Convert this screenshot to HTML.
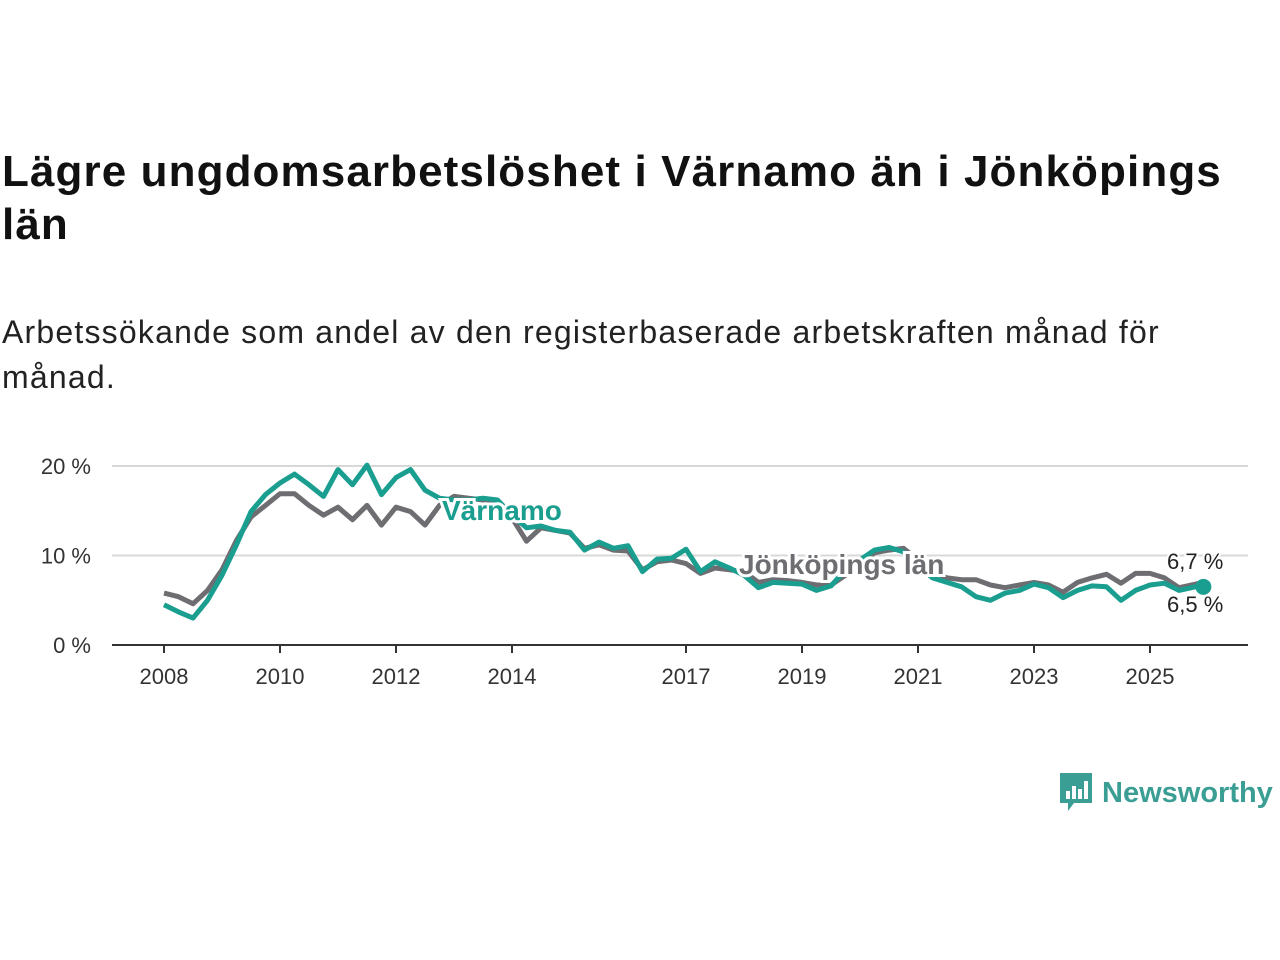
<!DOCTYPE html>
<html><head><meta charset="utf-8">
<style>
body{margin:0;width:1280px;height:960px;background:#fff;font-family:"Liberation Sans",sans-serif;overflow:hidden;position:relative}
h1{position:absolute;left:2px;top:145px;margin:0;font-size:44px;letter-spacing:1.1px;line-height:53px;font-weight:bold;color:#111;width:1270px;white-space:nowrap}
.sub{position:absolute;left:2px;top:310px;margin:0;font-size:32px;letter-spacing:1.2px;line-height:45px;color:#222;width:1270px;white-space:nowrap}
svg{position:absolute;left:0;top:0}
.logo{position:absolute;left:1058px;top:771px;height:44px;display:flex;align-items:center;color:#3a9e94;font-size:29px;font-weight:bold}
</style></head><body>
<h1>Lägre ungdomsarbetslöshet i Värnamo än i Jönköpings<br>län</h1>
<p class="sub">Arbetssökande som andel av den registerbaserade arbetskraften månad för<br>månad.</p>
<svg id="chart" width="1280" height="960"></svg>
<div class="logo">
<svg width="36" height="44" style="position:static;margin-right:8px"><path d="M2 2h32v30H16l-6 8v-8H2z" fill="#3a9e94"/><rect x="8" y="20" width="4" height="8" fill="#fff"/><rect x="14" y="15" width="4" height="13" fill="#fff"/><rect x="20" y="18" width="4" height="10" fill="#fff"/><rect x="26" y="10" width="4" height="18" fill="#fff"/></svg>Newsworthy</div>
<script>
const times=[];for(let i=0;i<71;i++)times.push(2008+i*0.25);times.push(2025.92);
const jonkoping=[5.8,5.4,4.6,6.1,8.4,11.7,14.3,15.6,16.9,16.9,15.6,14.5,15.4,14,15.6,13.4,15.4,14.9,13.4,15.6,16.6,16.4,16.2,15.6,14.2,11.6,13.1,12.8,12.5,10.8,11.2,10.6,10.5,8.4,9.3,9.5,9.1,8.0,8.6,8.4,8.2,7.0,7.3,7.2,7.0,6.7,6.7,7.8,8.9,10.3,10.6,10.8,9.5,8.2,7.5,7.3,7.3,6.7,6.4,6.7,7.0,6.7,5.9,7.0,7.5,7.9,6.9,8.0,8.0,7.5,6.4,7.0,6.7];
const varnamo=[4.5,3.7,3.0,5.0,7.8,11.2,14.9,16.8,18.1,19.1,17.9,16.6,19.6,17.9,20.1,16.8,18.7,19.6,17.3,16.4,16.2,16.2,16.4,16.2,14.5,13.1,13.3,12.8,12.6,10.6,11.5,10.8,11.1,8.2,9.6,9.7,10.7,8.2,9.3,8.6,7.8,6.4,7.0,6.9,6.8,6.1,6.6,8.4,9.5,10.6,10.9,10.4,8.9,7.5,7.0,6.5,5.4,5.0,5.8,6.1,6.8,6.4,5.3,6.1,6.6,6.5,5.0,6.1,6.7,6.9,6.1,6.7,6.5];
const yTicks=[0,10,20];
const yTickLabels=["0 %","10 %","20 %"];
const xTicks=[2008,2010,2012,2014,2017,2019,2021,2023,2025];
const NS="http://www.w3.org/2000/svg",svg=document.getElementById('chart');
const X=t=>164+(t-2008)*58, Y=v=>645-v*8.95;
function mk(tag,a,p){const e=document.createElementNS(NS,tag);for(const k in a)e.setAttribute(k,a[k]);(p||svg).appendChild(e);return e;}
yTicks.forEach((v,i)=>{
 if(v>0){const g=mk('line',{x1:112,x2:1248,y1:Y(v),y2:Y(v),stroke:'#d8d8d8','stroke-width':2});
 
 }
 const t=mk('text',{x:91,y:Y(v)+8,'text-anchor':'end','font-size':22,fill:'#333'});t.textContent=yTickLabels[i];
 
 
});
const ax=mk('line',{x1:112,x2:1248,y1:645,y2:645,stroke:'#333','stroke-width':2});


xTicks.forEach(y=>{
 const tk=mk('line',{x1:X(y),x2:X(y),y1:645,y2:653,stroke:'#333','stroke-width':2});
 
 
 const t=mk('text',{x:X(y),y:684,'text-anchor':'middle','font-size':22,fill:'#333'});t.textContent=y;
 
 
});
function path(vals){return vals.map((v,i)=>(i?'L':'M')+X(times[i]).toFixed(1)+' '+Y(v).toFixed(1)).join('');}
const l1=mk('path',{d:path(jonkoping),fill:'none',stroke:'#6d6d72','stroke-width':5,'stroke-linejoin':'round'});


const l2=mk('path',{d:path(varnamo),fill:'none',stroke:'#1a9e8f','stroke-width':5,'stroke-linejoin':'round'});


const dot=mk('circle',{cx:X(times[times.length-1]),cy:Y(varnamo[varnamo.length-1]),r:8,fill:'#1a9e8f'});


function lab(x,y,txt,col,size,bold,name,anchor){
 const t=mk('text',{x:x,y:y,'font-size':size,'font-weight':bold?'bold':'normal',fill:col,stroke:'#fff','stroke-width':bold?6:4,'paint-order':'stroke','text-anchor':anchor||'start'});
 t.textContent=txt;
 
 
}
lab(442,520,'Värnamo','#1a9e8f',28,true,'varnamo-label');
lab(739,574,'Jönköpings län','#6d6d72',28,true,'jonkoping-label');
lab(1167,569,'6,7 %','#222',22,false,'jonkoping-end-value');
lab(1167,612,'6,5 %','#222',22,false,'varnamo-end-value');
</script>
</body></html>
